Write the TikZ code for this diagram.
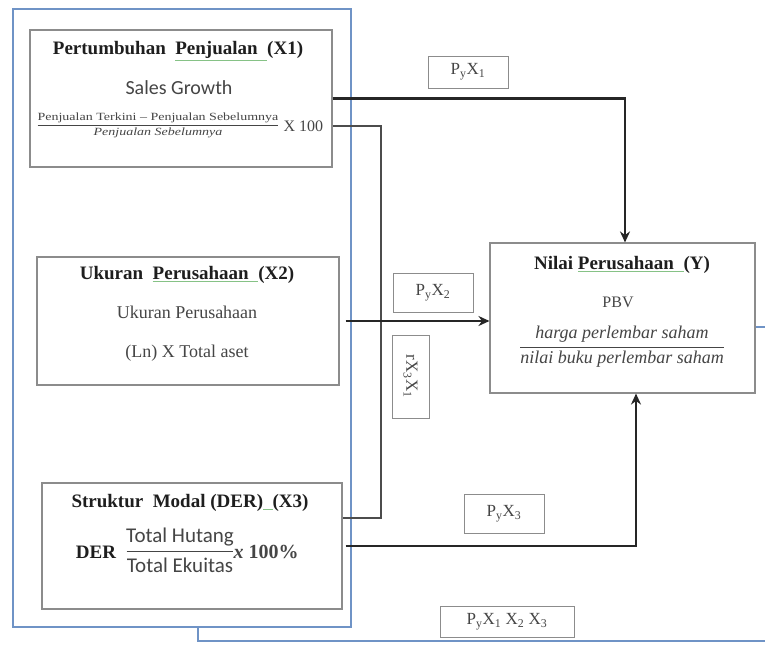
\documentclass[tikz,border=0pt]{standalone}
\usepackage{graphicx}
\usepackage{fontspec}
\setmainfont{Liberation Serif}
\newfontfamily\calibri{Carlito}
\usetikzlibrary{arrows.meta}
\definecolor{frameblue}{HTML}{6F93C6}
\definecolor{boxgray}{HTML}{8C8C8C}
\definecolor{txt}{HTML}{454545}
\definecolor{ttl}{HTML}{1E1E1E}
\definecolor{ulgreen}{HTML}{86C286}
\newcommand{\gul}[1]{{\color{ulgreen}\underline{\color{ttl}#1}}}
\newcommand{\fs}[1]{\fontsize{#1}{#1}\selectfont}
\begin{document}
\begin{tikzpicture}[x=1pt,y=-1pt,
  varbox/.style={draw=boxgray, line width=1.1pt, inner sep=0pt, fill=white},
  lbl/.style={draw=boxgray, line width=1pt, inner sep=0pt, text=txt, font=\fs{17}},
  frm/.style={draw=frameblue, line width=1.4pt},
  heavyline/.style={line width=2.8pt, draw=black!85},
  heavyarrow/.style={heavyline, -{Stealth[length=11pt,width=10pt]}},
  thinline/.style={line width=1.2pt, draw=black!70},
  fracbar/.style={line width=0.9pt, draw=txt},
  ttlstyle/.style={font=\fs{19}\bfseries, text=ttl, inner sep=0pt},
  body/.style={text=txt, inner sep=0pt}
]
\path[use as bounding box] (0,0) rectangle (765,645);

% outer blue frame
\node[frm, minimum width=338pt, minimum height=618pt, inner sep=0pt] (frame) at (182,318) {};

% variable boxes
\node[varbox, minimum width=302pt, minimum height=137pt] (x1) at (181,98.5) {};
\node[varbox, minimum width=302pt, minimum height=128pt] (x2) at (188,321) {};
\node[varbox, minimum width=300pt, minimum height=126pt] (x3) at (192,546) {};
\node[varbox, minimum width=265pt, minimum height=150pt] (y) at (622.5,318) {};

% blue connectors
\coordinate (fb) at (198,641);
\coordinate (fe) at (765,641);
\coordinate (ye) at (765,327);
\draw[frm] (frame.south -| fb) -- (fb) -- (fe);
\draw[frm] (y.east |- ye) -- (ye);

% X1 text
\node[ttlstyle] (x1t) at (178,51) {Pertumbuhan\ \ \gul{Penjualan\ \ }(X1)};
\node[body, font=\calibri\fs{20}] (x1s) at (179,88) {Sales Growth};
\node[body] (x1f) at (158,126) {\scalebox{1.4}[1.1]{$\displaystyle\frac{\mbox{\fs{10}Penjualan Terkini – Penjualan Sebelumnya}}{\mbox{\fs{10}\itshape\strut Penjualan Sebelumnya}}$}};
\node[body, font=\fs{16}, anchor=west] (x1x) at ([xshift=3pt]x1f.east) {X 100};

% X2 text
\node[ttlstyle] (x2t) at (187,275) {Ukuran\ \ \gul{Perusahaan\ \ }(X2)};
\node[body, font=\fs{18}] (x2s) at (187,312) {Ukuran Perusahaan};
\node[body, font=\fs{18}] (x2f) at (187,353) {(Ln) X Total aset};

% Y text
\node[ttlstyle] (yt) at (622,265) {Nilai \gul{Perusahaan\ \ }(Y)};
\node[body, font=\fs{16}] (ys) at (618,302) {PBV};
\node[body, font=\fs{18}\itshape] (yn) at (622,334) {harga perlembar saham};
\node[body, font=\fs{18}\itshape] (yd) at (622,359) {nilai buku perlembar saham};
\draw[fracbar] (yd.west |- 0,347) -- (yd.east |- 0,347);

% X3 text
\node[ttlstyle] (x3t) at (190,503) {Struktur\ \ Modal (DER)\gul{\ \ }(X3)};
\node[body, font=\fs{19}\bfseries, text=ttl] (x3d) at (96,552) {DER};
\node[body, font=\calibri\fs{21}] (x3n) at (180,537) {Total Hutang};
\node[body, font=\calibri\fs{21}] (x3e) at (180,565) {Total Ekuitas};
\draw[fracbar] (x3e.west |- 0,551) -- (x3e.east |- 0,551);
\node[body, font=\fs{20}\bfseries, anchor=west] (x3x) at (x3e.east |- 0,552) {\textit{x} 100\%};

% path labels
\node[lbl, minimum width=80pt, minimum height=32pt] (p1) at (468,72) {P\textsubscript{y}X\textsubscript{1}};
\node[lbl, minimum width=80pt, minimum height=39pt] (p2) at (433,292.5) {P\textsubscript{y}X\textsubscript{2}};
\node[lbl, minimum width=37pt, minimum height=83pt] (r31) at (410.5,376.5) {\rotatebox{-90}{rX\textsubscript{3}X\textsubscript{1}}};
\node[lbl, minimum width=80pt, minimum height=39pt] (p3) at (504,513.5) {P\textsubscript{y}X\textsubscript{3}};
\node[lbl, minimum width=134pt, minimum height=31pt] (p123) at (507,621.5) {P\textsubscript{y}X\textsubscript{1} X\textsubscript{2} X\textsubscript{3}};

% connectors
\coordinate (k1) at (381,126);
\coordinate (k2) at (381,518);
\draw[thinline] (x1.east |- k1) -- (k1) -- (k2) -- (x3.east |- k2);
\draw[heavyarrow] (x1.east) -| ([xshift=2.5pt]y.north);
\draw[heavyarrow, shorten <=6pt] (x2.east) -- (y.west |- x2.east);
\draw[heavyarrow, shorten <=3pt] (x3.east) -| ([xshift=13.5pt]y.south);
\end{tikzpicture}
\end{document}
